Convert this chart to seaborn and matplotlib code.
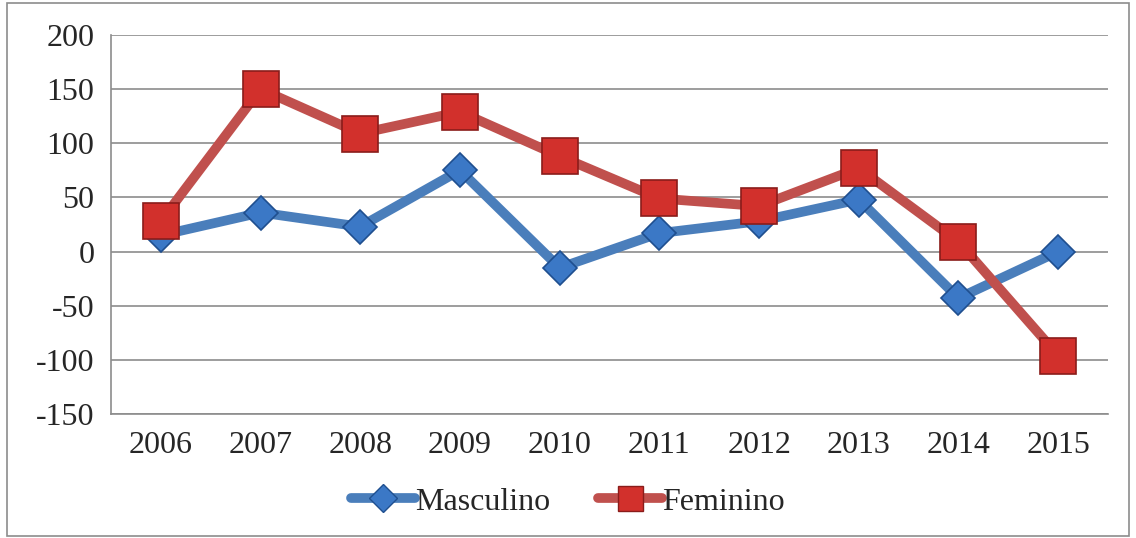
import pandas as pd
import matplotlib.pyplot as plt
import seaborn as sns
from matplotlib.patches import Rectangle
from matplotlib.lines import Line2D

# values
years = [2006, 2007, 2008, 2009, 2010, 2011, 2012, 2013, 2014, 2015]
masculino = [15, 36, 23, 75, -15, 17, 28, 48, -43, 0]
feminino = [28, 150, 109, 129, 88, 49, 42, 77, 9, -96]
y_ticks = [-150, -100, -50, 0, 50, 100, 150, 200]

sns.set_style("white")
plt.rcParams['font.family'] = ['Liberation Serif', 'DejaVu Serif']
plt.rcParams['axes.unicode_minus'] = False

df = pd.DataFrame({'ano': years, 'Masculino': masculino, 'Feminino': feminino})

fig = plt.figure(figsize=(11.36, 5.38), dpi=100)
ax = fig.add_axes([0.0977, 0.2305, 0.8777, 0.7045])

# Masculino series (blue diamonds)
sns.lineplot(data=df, x='ano', y='Masculino', ax=ax, color='#4a7ebb', linewidth=7,
             marker='D', markersize=17, markerfacecolor='#3b78c6',
             markeredgecolor='#1f4f8f', markeredgewidth=1.2, zorder=3)
# Feminino series (red squares)
sns.lineplot(data=df, x='ano', y='Feminino', ax=ax, color='#c0504d', linewidth=7,
             marker='s', markersize=26, markerfacecolor='#d2302c',
             markeredgecolor='#8a1c1a', markeredgewidth=1.2, zorder=4)

ax.set_xlim(years[0] - 0.5, years[-1] + 0.5)
ax.set_ylim(y_ticks[0], y_ticks[-1])
ax.set_xticks(years)
ax.set_xticklabels([str(y) for y in years])
ax.set_yticks(y_ticks)
ax.tick_params(axis='both', labelsize=23, length=0, pad=12)
ax.set_xlabel('')
ax.set_ylabel('')
ax.yaxis.grid(True, color='#8c8c8c', linewidth=1.2)
ax.xaxis.grid(False)
for side in ['top', 'right']:
    ax.spines[side].set_visible(False)
ax.spines['left'].set_color('#8c8c8c')
ax.spines['bottom'].set_color('#8c8c8c')
ax.spines['left'].set_linewidth(1.2)
ax.spines['bottom'].set_linewidth(1.2)

handles = [
    Line2D([0], [0], color='#4a7ebb', linewidth=7, marker='D', markersize=14,
           markerfacecolor='#3b78c6', markeredgecolor='#1f4f8f'),
    Line2D([0], [0], color='#c0504d', linewidth=7, marker='s', markersize=18,
           markerfacecolor='#d2302c', markeredgecolor='#8a1c1a'),
]
fig.legend(handles, ['Masculino', 'Feminino'], loc='center', bbox_to_anchor=(0.5, 0.067),
           ncol=2, frameon=False, fontsize=23, handlelength=2.0, handletextpad=0.0,
           columnspacing=1.5)

# thin gray border around the whole chart
fig.patches.append(Rectangle((0.006, 0.004), 0.988, 0.99, transform=fig.transFigure,
                             fill=False, edgecolor='#8c8c8c', linewidth=1.2))

fig.savefig('out.png', dpi=100)
